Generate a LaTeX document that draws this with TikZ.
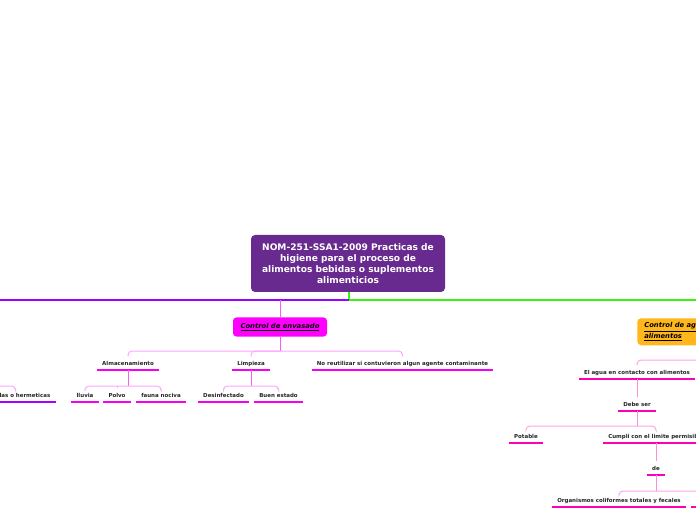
\documentclass[tikz,border=0pt]{standalone}
\usepackage{fontspec}
\setmainfont{DejaVu Sans}
\definecolor{rootP}{RGB}{104,42,142}
\definecolor{lineP}{RGB}{153,0,255}
\definecolor{lineG}{RGB}{60,240,20}
\definecolor{magBox}{RGB}{255,0,255}
\definecolor{orBox}{RGB}{255,183,27}
\definecolor{magBar}{RGB}{245,0,245}
\definecolor{pinkBar}{RGB}{255,0,180}
\definecolor{vioBar}{RGB}{170,0,255}
\definecolor{spanLc}{RGB}{255,165,255}
\definecolor{trunkLc}{RGB}{250,90,250}
\definecolor{spanRc}{RGB}{255,165,230}
\definecolor{trunkRc}{RGB}{255,140,220}
\begin{document}
\begin{tikzpicture}[x=0.75pt,y=-0.75pt,
  root/.style={fill=rootP, rounded corners=3pt, text=white,
    font=\fontsize{6.8}{8.25}\selectfont\bfseries, align=center,
    minimum width=145.5pt, minimum height=42.75pt, inner sep=0pt},
  envbox/.style={fill=magBox, rounded corners=2.5pt, text=black,
    font=\fontsize{5.1}{6.5}\selectfont\bfseries\itshape,
    minimum width=70.5pt, minimum height=14.25pt, inner sep=0pt},
  orbox/.style={fill=orBox, rounded corners=3pt, text=black, anchor=north west,
    font=\fontsize{5.1}{6.75}\selectfont\bfseries\itshape, align=left,
    minimum height=20.25pt, inner xsep=5.25pt, inner ysep=0pt},
  item/.style={font=\fontsize{4.1}{5}\selectfont\bfseries, text=black!85,
    inner xsep=3.75pt, inner ysep=3.4pt, text height=3pt, text depth=0pt, anchor=south},
  itemL/.style={item, append after command={(\tikzlastnode.south west) edge[draw=magBar, line width=1.9pt] (\tikzlastnode.south east)}},
  itemR/.style={item, append after command={(\tikzlastnode.south west) edge[draw=pinkBar, line width=1.9pt] (\tikzlastnode.south east)}},
  itemV/.style={item, append after command={(\tikzlastnode.south west) edge[draw=vioBar, line width=1.9pt] (\tikzlastnode.south east)}},
  barR/.style={draw=pinkBar, line width=1.9pt},
  greenline/.style={draw=lineG, line width=1.3pt},
  purpleline/.style={draw=lineP, line width=1.3pt},
  trunk/.style={draw=trunkLc, line width=0.75pt},
  span/.style={draw=spanLc, line width=0.75pt, rounded corners=3pt},
  trunkR/.style={draw=trunkRc, line width=0.75pt},
  spanR/.style={draw=spanRc, line width=0.75pt, rounded corners=3pt}
]
\useasboundingbox (0,0) rectangle (696,520);
\fill[white] (0,0) rectangle (696,520);
\clip (0,0) rectangle (696,520);

% root
\node[root] (root) at (348,263.5) {NOM-251-SSA1-2009 Practicas de\\higiene para el proceso de\\alimentos bebidas o suplementos\\alimenticios};
\coordinate (j) at (349,300);
\coordinate (pL) at (-20,300);
\coordinate (gR) at (720,300);
\draw[greenline] (root.south -| j) -- (j) -- (gR);
\draw[purpleline] (j) -- (pL);

% Control de envasado
\node[envbox] (env) at (280,327) {\underline{Control de envasado}};
\draw[trunk] (env.north) -- (env.north |- j);

\coordinate (b1) at (280,351);
\node[itemL] (alm) at (128,370) {Almacenamiento};
\node[itemL] (lim) at (251,370) {Limpieza};
\node[itemL] (nor) at (402.5,370) {No reutilizar si contuvieron algun agente contaminante};
\draw[trunk] (env.south) -- (b1);
\draw[span] (alm.north) |- (b1) -| (nor.north);
\draw[span] (lim.north) |- (b1);

\coordinate (b2) at (128,386);
\node[itemL] (llu) at (85,402) {lluvia};
\node[itemL] (pol) at (117,402) {Polvo};
\node[itemL] (fau) at (161,402) {fauna nociva};
\draw[trunk] (alm.south) -- (b2);
\draw[span] (llu.north) |- (b2) -| (fau.north);
\draw[span] (pol.north) -- (pol.north |- b2);

\coordinate (b3) at (251,386);
\node[itemL] (des) at (223.5,402) {Desinfectado};
\node[itemL] (bue) at (278.5,402) {Buen estado};
\draw[trunk] (lim.south) -- (b3);
\draw[span] (des.north) |- (b3) -| (bue.north);

\coordinate (b0) at (-30,386);
\node[itemV] (cer) at (15.5,402) {Cerradas o hermeticas};
\draw[span] (b0) -| (cer.north);

% Control de agua
\node[orbox] (agua) at (637,318) {\underline{Control de agua en contacto con los}\\\underline{alimentos}};

\coordinate (b4) at (720,360);
\node[itemR] (ela) at (637,379) {El agua en contacto con alimentos};
\draw[spanR] (ela.north) |- (b4);
\node[itemR] (deb) at (637,411) {Debe ser};
\draw[trunkR] (ela.south) -- (deb.north);

\coordinate (b5) at (637,426);
\node[itemR] (pot) at (526,443) {Potable};
\node[itemR] (cum) at (656,443) {Cumpli con el limite permisible};
\draw[trunkR] (deb.south) -- (b5);
\draw[spanR] (pot.north) |- (b5) -| (cum.north);

\node[itemR] (de) at (656,475) {de};
\draw[trunkR] (cum.south) -- (de.north);

\coordinate (b6) at (656,491);
\coordinate (b7) at (720,491);
\node[itemR] (org) at (619,507) {Organismos coliformes totales y fecales};
\draw[trunkR] (de.south) -- (b6);
\draw[spanR] (org.north) |- (b7);
\coordinate (f1) at (691,507);
\coordinate (f2) at (730,507);
\draw[barR] (f1) -- (f2);
\end{tikzpicture}
\end{document}
